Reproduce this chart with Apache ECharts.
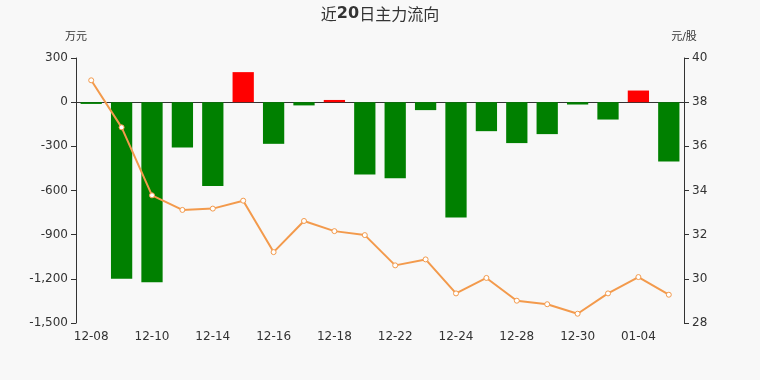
<!DOCTYPE html>
<html>
<head>
<meta charset="utf-8">
<script src="https://cdn.jsdelivr.net/npm/echarts@6/dist/echarts.min.js"></script>
<style>
  html, body { margin: 0; padding: 0; background: #f8f8f8; }
  #chart { width: 760px; height: 380px; }
</style>
</head>
<body>
<div id="chart"></div>
<script>
// 日期
const dates = ["12-08", "12-09", "12-10", "12-11", "12-14", "12-15", "12-16", "12-17", "12-18", "12-21",
               "12-22", "12-23", "12-24", "12-25", "12-28", "12-29", "12-30", "12-31", "01-04", "01-05"];
// 主力净流入 (万元)
const flows = [-12, -1200, -1223, -308, -569, 204, -283, -22, 15, -491,
               -516, -54, -783, -197, -278, -217, -16, -118, 79, -403];
// 收盘价 (元/股)
const prices = [38.99, 36.86, 33.78, 33.12, 33.18, 33.54, 31.21, 32.62, 32.16, 31.98,
                30.61, 30.88, 29.34, 30.04, 29.01, 28.85, 28.42, 29.34, 30.08, 29.28];

const chart = echarts.init(document.getElementById("chart"));

const option = {
    backgroundColor: "#f8f8f8",
    textStyle: { fontFamily: "DejaVu Sans, Noto Sans CJK SC" },
    title: {
        text: "{a|近}{b|20}{a|日主力流向}",
        left: "center",
        top: 1,
        textStyle: {
            rich: {
                a: { fontSize: 16, color: "#333", fontWeight: "normal", fontFamily: "Noto Sans CJK SC" },
                b: { fontSize: 16, color: "#333", fontWeight: "bold", fontFamily: "DejaVu Sans" }
            }
        }
    },
    grid: { left: 76, right: 76, top: 58, bottom: 57 },
    xAxis: {
        type: "category",
        data: dates,
        axisLine: { onZero: true, lineStyle: { color: "#333" } },
        axisTick: { inside: true, length: 3, interval: 1, lineStyle: { color: "#333" } },
        axisLabel: { interval: 1, color: "#333", fontSize: 12, margin: 8 },
        splitLine: { show: false }
    },
    yAxis: [
        {
            type: "value",
            name: "万元",
            nameGap: 15,
            nameTextStyle: { color: "#333", fontSize: 11, align: "center" },
            min: -1500,
            max: 300,
            interval: 300,
            axisLine: { show: true, lineStyle: { color: "#333" } },
            axisTick: { show: true, lineStyle: { color: "#333" } },
            axisLabel: { color: "#333", fontSize: 12 },
            splitLine: { show: false }
        },
        {
            type: "value",
            name: "元/股",
            nameGap: 15,
            nameTextStyle: { color: "#333", fontSize: 11, align: "center" },
            min: 28,
            max: 40,
            interval: 2,
            position: "right",
            axisLine: { show: true, lineStyle: { color: "#333" } },
            axisTick: { show: true, lineStyle: { color: "#333" } },
            axisLabel: { color: "#333", fontSize: 12 },
            splitLine: { show: false }
        }
    ],
    series: [
        {
            name: "主力流向",
            type: "bar",
            barWidth: "70%",
            data: flows,
            itemStyle: {
                color: (p) => (p.value >= 0 ? "#ff0000" : "#008000")
            }
        },
        {
            name: "股价",
            type: "line",
            yAxisIndex: 1,
            data: prices,
            symbol: "circle",
            symbolSize: 5,
            lineStyle: { width: 2, color: "#f39a4c" },
            itemStyle: { color: "#ffffff", borderColor: "#f39a4c", borderWidth: 1 },
            z: 5
        }
    ]
};

chart.setOption(option);
</script>
</body>
</html>
